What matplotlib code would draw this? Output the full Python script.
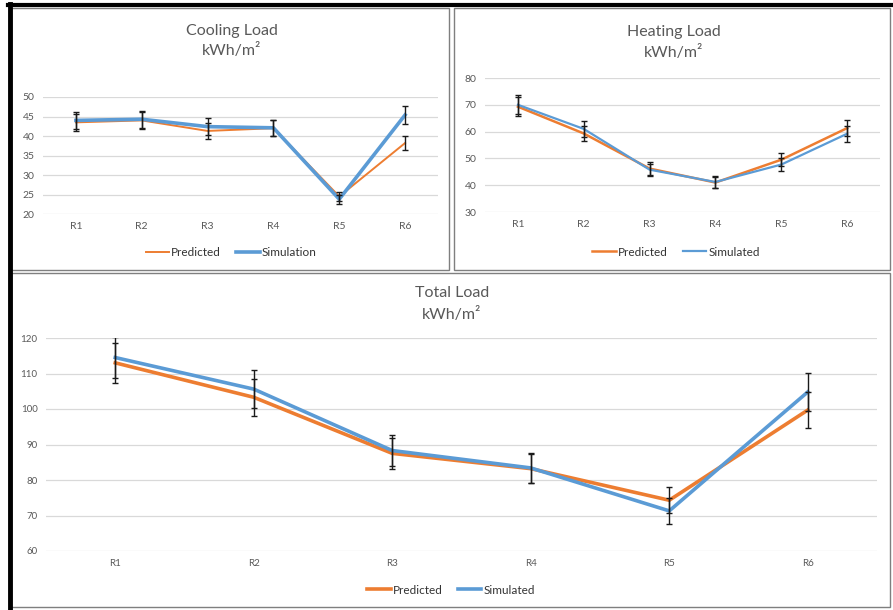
import matplotlib
matplotlib.use("Agg")
import matplotlib.pyplot as plt
from matplotlib.patches import Rectangle
from matplotlib.lines import Line2D

plt.rcParams['font.family'] = ['Lato', 'DejaVu Sans']

categories = ["R1", "R2", "R3", "R4", "R5", "R6"]

cooling_predicted = [43.5, 44.0, 41.3, 42.0, 24.5, 38.2]
cooling_simulation = [44.0, 44.3, 42.4, 42.1, 23.8, 45.4]

heating_predicted = [69.3, 59.3, 46.2, 41.0, 49.5, 61.3]
heating_simulated = [70.0, 61.0, 45.8, 41.2, 47.7, 59.2]

total_predicted = [113.0, 103.3, 87.5, 83.2, 74.3, 99.7]
total_simulated = [114.5, 105.6, 88.3, 83.4, 71.3, 104.8]

error_pct = 0.05  # percentage error bars

cooling_yticks = [20, 25, 30, 35, 40, 45, 50]
heating_yticks = [30, 40, 50, 60, 70, 80]
total_yticks = [60, 70, 80, 90, 100, 110, 120]

ORANGE = "#ED7D31"
BLUE = "#5B9BD5"
GRID = "#D9D9D9"
TXT = "#595959"

W, H = 893, 610
fig = plt.figure(figsize=(W / 100, H / 100), dpi=100)
fig.patch.set_facecolor("white")


def fx(x):
    return x / W


def fy(y):
    return 1 - y / H


def add_axes_px(x0, x1, ytop, ybot):
    ax = fig.add_axes([fx(x0), fy(ybot), fx(x1) - fx(x0), (ybot - ytop) / H])
    ax.set_zorder(2)
    return ax


def panel(x0, y0, x1, y1):
    fig.patches.append(Rectangle((fx(x0), fy(y1)), fx(x1) - fx(x0), (y1 - y0) / H,
                                 transform=fig.transFigure, facecolor="white",
                                 edgecolor="#7F7F7F", lw=1.0, zorder=-1))


# panel frames
panel(11, 8, 449, 270)
panel(454, 8, 890, 270)
panel(11, 273, 890, 607)
# thick dark outer lines
fig.add_artist(Line2D([fx(9.5), fx(9.5)], [fy(4), fy(608)], transform=fig.transFigure,
                      color="black", lw=3.5, zorder=1))
fig.add_artist(Line2D([fx(8), fx(892)], [fy(5), fy(5)], transform=fig.transFigure,
                      color="black", lw=3.0, zorder=1))


def style_axes(ax, ylim, yticks, fs):
    x = list(range(len(categories)))
    ax.set_xlim(-0.5, len(categories) - 0.5)
    ax.set_ylim(*ylim)
    ax.set_yticks(yticks)
    ax.set_xticks(x)
    ax.set_xticklabels(categories)
    for s in ax.spines.values():
        s.set_visible(False)
    ax.tick_params(length=0, colors=TXT, labelsize=fs, pad=6)
    ax.yaxis.grid(True, color=GRID, lw=0.9)
    ax.set_axisbelow(True)
    ax.patch.set_alpha(0)
    return x


def draw(ax, series, colors, lws, labels, ylim, yticks, fs, legend_y, legend_x):
    x = style_axes(ax, ylim, yticks, fs)
    handles = []
    for vals, c, lw, lab in zip(series, colors, lws, labels):
        h, = ax.plot(x, vals, color=c, lw=lw, label=lab, zorder=3, solid_joinstyle="round")
        handles.append(h)
    for vals in series:
        ax.errorbar(x, vals, yerr=[v * error_pct for v in vals], fmt="none", ecolor="#1a1a1a",
                    elinewidth=1.0, capsize=2.5, capthick=1.0, zorder=4)
    leg = fig.legend(handles=handles, loc="center", bbox_to_anchor=(fx(legend_x), fy(legend_y)),
                     ncol=2, frameon=False, fontsize=8.5, handlelength=2.0, columnspacing=1.3,
                     handletextpad=0.15, labelcolor="#333333")
    leg.set_zorder(3)
    return ax


# Cooling
ax1 = add_axes_px(43, 438, 97, 214)
draw(ax1, [cooling_predicted, cooling_simulation], [ORANGE, BLUE], [1.4, 2.6],
     ["Predicted", "Simulation"], (20, 50), cooling_yticks, 7.5, 253, 231)
fig.text(fx(232), fy(31), "Cooling Load", ha="center", va="center", fontsize=11.5, color=TXT)
fig.text(fx(232), fy(51), "kWh/m²", ha="center", va="center", fontsize=11.5, color=TXT)

# Heating
ax2 = add_axes_px(485, 880, 78, 212)
draw(ax2, [heating_predicted, heating_simulated], [ORANGE, BLUE], [1.8, 1.6],
     ["Predicted", "Simulated"], (30, 80), heating_yticks, 7.5, 252, 676)
fig.text(fx(674), fy(32), "Heating Load", ha="center", va="center", fontsize=11.5, color=TXT)
fig.text(fx(674), fy(53), "kWh/m²", ha="center", va="center", fontsize=11.5, color=TXT)

# Total
ax3 = add_axes_px(46, 877, 338, 551)
draw(ax3, [total_predicted, total_simulated], [ORANGE, BLUE], [2.6, 2.6],
     ["Predicted", "Simulated"], (60, 120), total_yticks, 7, 590, 451)
fig.text(fx(452), fy(293), "Total Load", ha="center", va="center", fontsize=11.5, color=TXT)
fig.text(fx(452), fy(314), "kWh/m²", ha="center", va="center", fontsize=11.5, color=TXT)

fig.savefig("out.png", dpi=100, facecolor="white")
